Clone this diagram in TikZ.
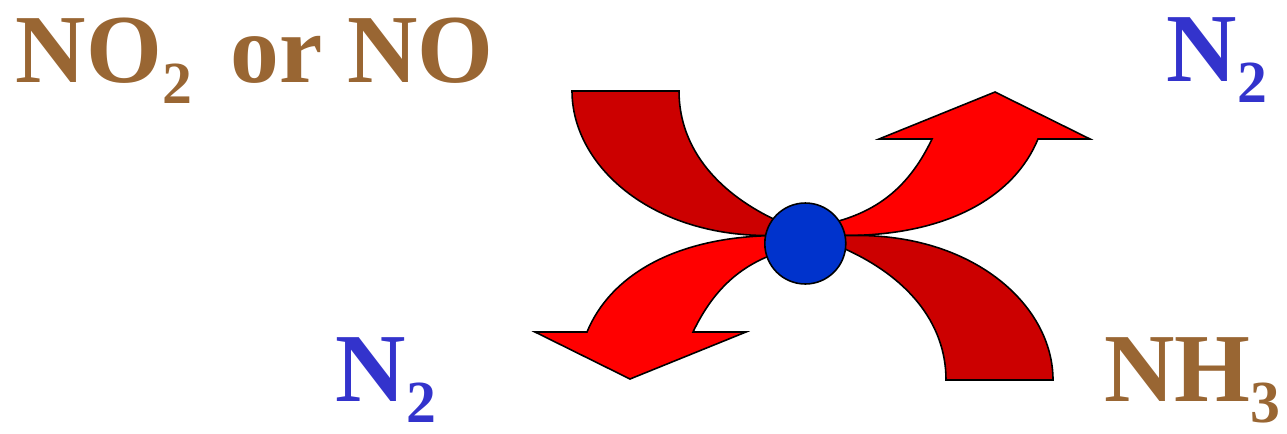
\documentclass[tikz,border=0pt]{standalone}
\usepackage{fontspec}
\setmainfont{Liberation Serif}
\definecolor{darkband}{RGB}{204,0,0}
\definecolor{brightband}{RGB}{255,0,0}
\definecolor{hubblue}{RGB}{0,51,204}
\definecolor{chembrown}{RGB}{153,102,51}
\definecolor{chemblue}{RGB}{51,51,204}
\newcommand{\chemsub}[1]{\raisebox{-12pt}{\fontsize{34}{34}\selectfont #1}}
\tikzset{
  bandline/.style={draw=black, line width=0.9pt, line join=miter},
  darkshape/.style={bandline, fill=darkband},
  brightshape/.style={bandline, fill=brightband},
  chemlabel/.style={inner sep=0pt, anchor=base west, font=\fontsize{55.5}{60}\selectfont\bfseries},
}
\begin{document}
\begin{tikzpicture}[x=0.02cm, y=-0.02cm]
\useasboundingbox (0,0) rectangle (1287,433);
% dark band (top-left) and bright arrow (top-right), and their point mirrors
\foreach \ang in {0,180}{
\begin{scope}[rotate around={\ang:(812.5,235.5)}]
\path[darkshape] (572,91) -- (679,91) .. controls (679,150) and (720,195) .. (780,222)
  -- (800,235.5) -- (767,235.5) .. controls (650,235.5) and (572,165) .. (572,91) -- cycle;
\path[brightshape] (800,235.5) -- (845,235.5) .. controls (950,235.5) and (1015,195) .. (1038,139)
  -- (1090,139) -- (995,92) -- (879,139) -- (932,139) .. controls (910,185) and (880,210) .. (835,222) -- cycle;
\end{scope}
}
\node[circle, draw=black, line width=0.9pt, fill=hubblue, minimum size=1.62cm, inner sep=0pt] (hub) at (805.3,243.5) {};
\node[chemlabel, text=chembrown] (reactant) at (15.5,82.7) {NO\chemsub{2}\hspace{0.4em}or NO};
\node[chemlabel, text=chemblue] (ntop) at (1166.5,81.7) {N\chemsub{2}};
\node[chemlabel, text=chemblue] (nbottom) at (335.5,401.7) {N\chemsub{2}};
\node[chemlabel, text=chembrown] (ammonia) at (1104,401) {NH\chemsub{3}};
\end{tikzpicture}
\end{document}
